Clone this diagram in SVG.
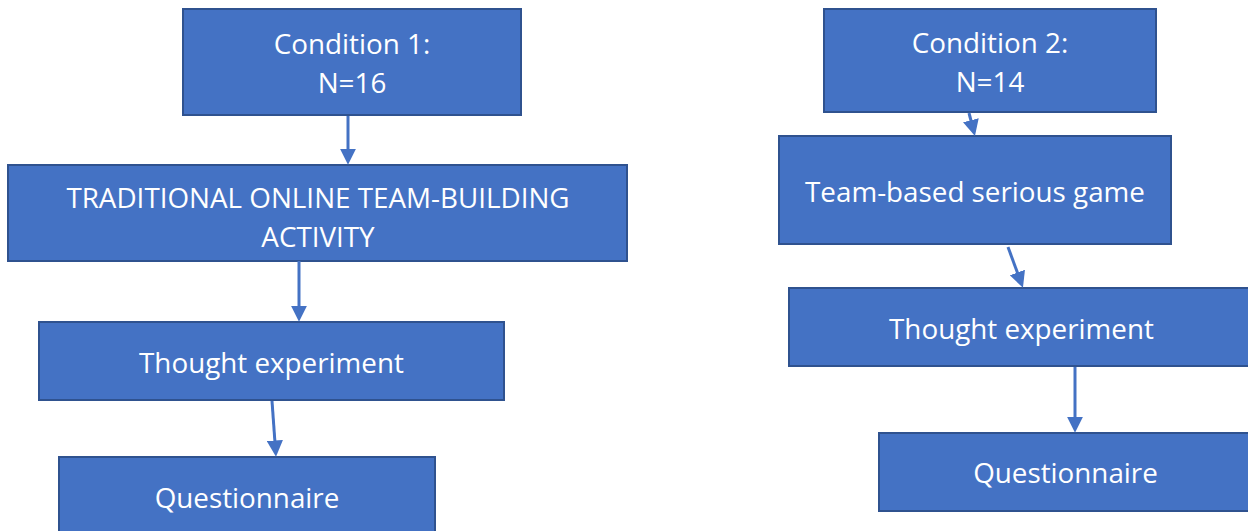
<svg xmlns="http://www.w3.org/2000/svg" width="1248" height="531" viewBox="0 0 1248 531">
  <style>
    .box { fill: #4472C4; stroke: #2F528F; stroke-width: 2; }
    .lbl { fill: #FFFFFF; font-family: "Open Sans", "Noto Sans", "Liberation Sans", sans-serif; font-size: 27.8px; text-anchor: middle; }
    .conn { stroke: #4472C4; stroke-width: 3; fill: none; }
  </style>
  <defs>
    <marker id="arrow" viewBox="0 0 10 10" refX="4" refY="5" markerWidth="5.4" markerHeight="5.4" orient="auto">
      <path d="M0,0 L10,5 L0,10 z" fill="#4472C4"/>
    </marker>
  </defs>
  <rect width="1248" height="531" fill="#FFFFFF"/>

  <!-- Condition 1 column -->
  <g id="cond1">
    <rect class="box" x="183" y="9" width="338" height="106"/>
    <text class="lbl" x="352" y="54">Condition 1:</text>
    <text class="lbl" x="352" y="93">N=16</text>
  </g>
  <g id="traditional">
    <rect class="box" x="8" y="165" width="619" height="96"/>
    <text class="lbl" x="318" y="208">TRADITIONAL ONLINE TEAM-BUILDING</text>
    <text class="lbl" x="318" y="247">ACTIVITY</text>
  </g>
  <g id="thought1">
    <rect class="box" x="39" y="322" width="465" height="78"/>
    <text class="lbl" x="271.5" y="373">Thought experiment</text>
  </g>
  <g id="quest1">
    <rect class="box" x="59" y="457" width="376" height="80"/>
    <text class="lbl" x="247" y="508">Questionnaire</text>
  </g>

  <!-- Condition 2 column -->
  <g id="cond2">
    <rect class="box" x="824" y="9" width="332" height="103"/>
    <text class="lbl" x="990" y="53">Condition 2:</text>
    <text class="lbl" x="990" y="92">N=14</text>
  </g>
  <g id="game">
    <rect class="box" x="779" y="136" width="392" height="108"/>
    <text class="lbl" x="975" y="202">Team-based serious game</text>
  </g>
  <g id="thought2">
    <rect class="box" x="789" y="288" width="466" height="78"/>
    <text class="lbl" x="1021.5" y="339">Thought experiment</text>
  </g>
  <g id="quest2">
    <rect class="box" x="879" y="433" width="374" height="78"/>
    <text class="lbl" x="1065.5" y="483">Questionnaire</text>
  </g>

  <!-- connectors -->
  <g id="connectors">
    <line class="conn" x1="348" y1="116" x2="348" y2="155" marker-end="url(#arrow)"/>
    <line class="conn" x1="299" y1="261" x2="299" y2="312" marker-end="url(#arrow)"/>
    <line class="conn" x1="272" y1="401" x2="275.3" y2="447" marker-end="url(#arrow)"/>
    <line class="conn" x1="969" y1="113" x2="972.5" y2="126.5" marker-end="url(#arrow)"/>
    <line class="conn" x1="1008" y1="247" x2="1019.6" y2="278.6" marker-end="url(#arrow)"/>
    <line class="conn" x1="1075" y1="367" x2="1075" y2="423" marker-end="url(#arrow)"/>
  </g>
</svg>
